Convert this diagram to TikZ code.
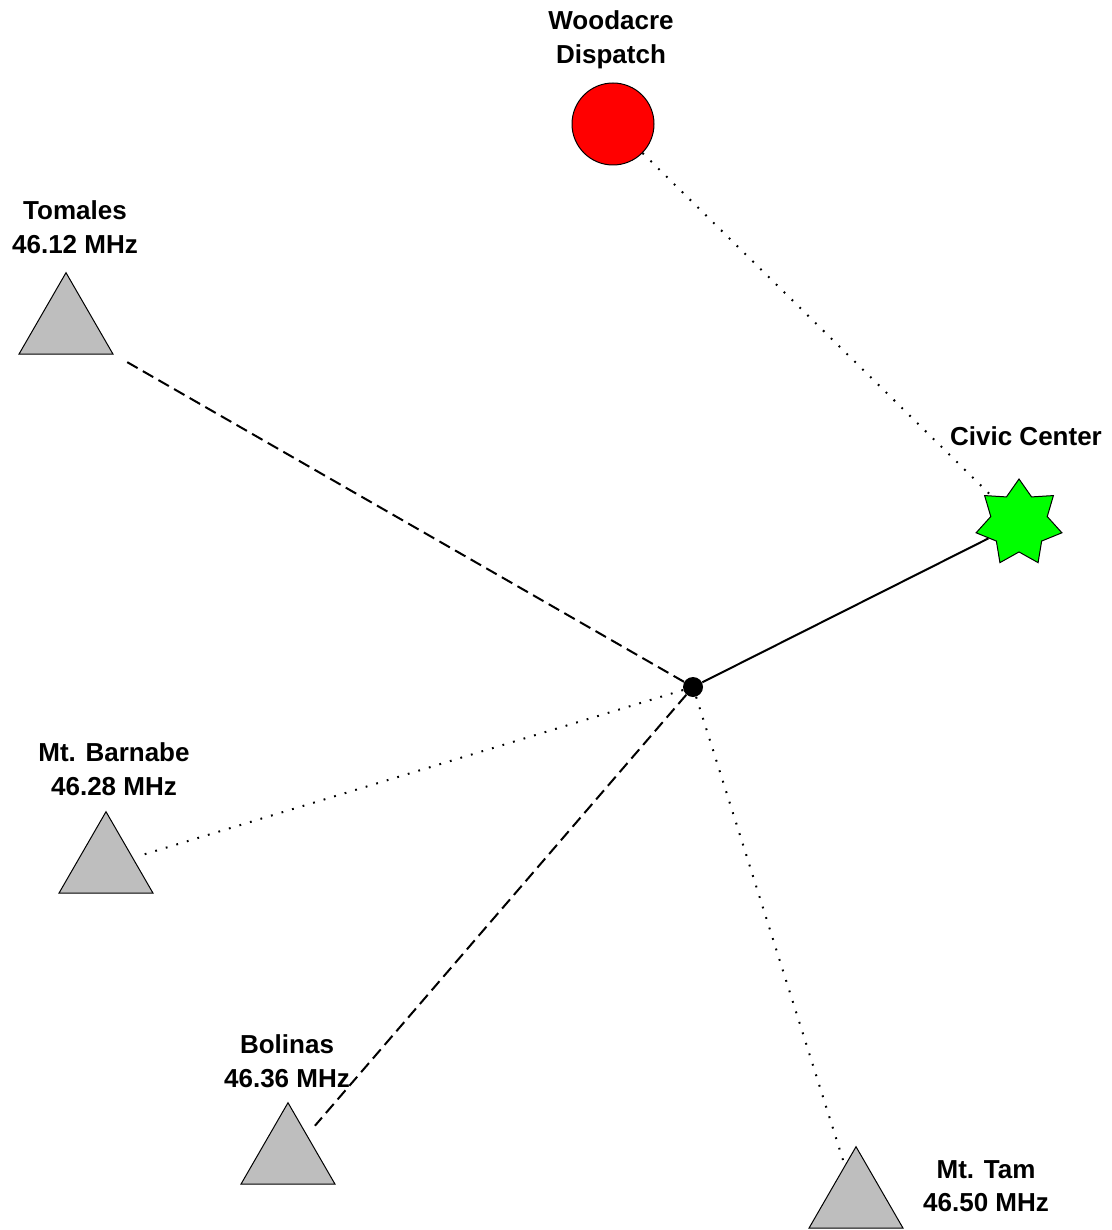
\documentclass[tikz,border=0pt]{standalone}
\usepackage{fontspec}
\setmainfont{Liberation Sans}
\usetikzlibrary{shapes.geometric}

\definecolor{siteGray}{RGB}{190,190,190}
\definecolor{civicGreen}{RGB}{0,255,0}
\definecolor{dispRed}{RGB}{255,0,0}

\tikzset{
  site/.style={regular polygon, regular polygon sides=3, draw=black, line width=0.5pt, fill=siteGray, minimum size=54.3pt, inner sep=0pt},
  dispatch/.style={circle, draw=black, line width=0.5pt, fill=dispRed, minimum size=41pt, inner sep=0pt},
  civic/.style={star, star points=7, star point ratio=1.52, draw=black, line width=0.5pt, fill=civicGreen, minimum size=44pt, inner sep=0pt},
  hub/.style={circle, fill=black, minimum size=10pt, inner sep=0pt},
  lbl/.style={align=center, font=\bfseries\fontsize{13}{16.75}\selectfont, inner sep=0pt},
  solidlink/.style={line width=1pt},
  dashlink/.style={line width=1pt, dash pattern=on 6pt off 3pt},
  dotlink/.style={line width=1pt, dash pattern=on 0.9pt off 4.6pt}
}

\begin{document}
\begin{tikzpicture}[x=0.5pt,y=-0.5pt]
\useasboundingbox (0,0) rectangle (1112,1230);
% vertices
\node[hub] (hub) at (693,687) {};
\node[dispatch] (wood) at (613,124) {};
\node[civic] (cc) at (1019,523) {};
\node[site] (tom) at (66,327) {};
\node[site] (barn) at (106,866) {};
\node[site] (bol) at (288,1157) {};
\node[site] (tam) at (856,1201) {};
% labels
\node[lbl] (woodL) at (611,40) {Woodacre\\Dispatch};
\node[lbl] (ccL) at (1026,436) {Civic Center};
\node[lbl] (tomL) at (75,227) {Tomales\\46.12 MHz};
\node[lbl] (barnL) at (114,769) {Mt. Barnabe\\46.28 MHz};
\node[lbl] (bolL) at (287,1061) {Bolinas\\46.36 MHz};
\node[lbl] (tamL) at (986,1186) {Mt. Tam\\46.50 MHz};
% links
\draw[solidlink] (hub) -- (cc);
\draw[dotlink] (wood) -- (cc);
\draw[dashlink, shorten >=5pt] (hub) -- (tom);
\draw[dotlink, shorten >=5pt] (hub) -- (barn);
\draw[dashlink, shorten >=6pt] (hub) -- (bol);
\draw[dotlink, shorten >=2pt] (hub) -- (tam);
\end{tikzpicture}
\end{document}
